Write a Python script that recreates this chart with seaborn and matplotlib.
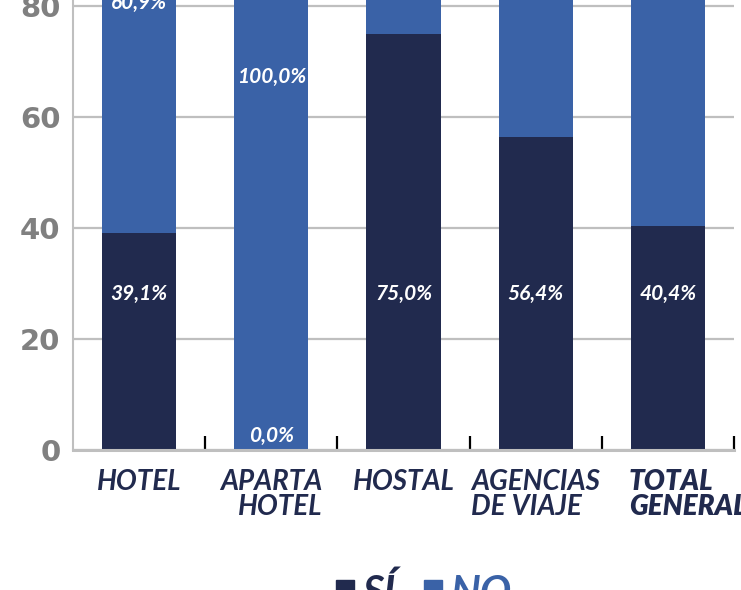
import matplotlib
matplotlib.use("Agg")
import matplotlib.pyplot as plt
import matplotlib.transforms as mtransforms
from matplotlib.patches import Patch
import pandas as pd
import seaborn as sns

# ── Data ─────────────────────────────────────────────────────────────────────
categories = ["HOTEL", "APARTA\nHOTEL", "HOSTAL", "AGENCIAS\nDE VIAJE", "TOTAL\nGENERAL"]
si_values = [39.1, 0.0, 75.0, 56.4, 40.4]
no_values = [60.9, 100.0, 25.0, 43.6, 59.6]
y_ticks = [0, 20, 40, 60, 80, 100]

NAVY = "#212A4E"
BLUE = "#3A62A7"
GRID = "#BFBFBF"

df = pd.DataFrame({"cat": categories, "si": si_values, "no": no_values})
df["total"] = df["si"] + df["no"]

sns.set_theme(style="white")
plt.rcParams["font.family"] = ["Lato", "DejaVu Sans"]

fig = plt.figure(figsize=(7.41, 5.90), dpi=100)
# axes runs past the top edge: the picture is a crop of a taller chart
ax = fig.add_axes([73 / 741, 140 / 590, 661 / 741, 555 / 590])

# stacked bars: full height in NO colour, SÍ drawn over it
sns.barplot(data=df, x="cat", y="total", color=BLUE, saturation=1,
            width=0.56, linewidth=0, ax=ax, zorder=3)
sns.barplot(data=df, x="cat", y="si", color=NAVY, saturation=1,
            width=0.56, linewidth=0, ax=ax, zorder=3)

ax.set_xlim(-0.5, len(categories) - 0.5)
ax.set_ylim(0, 100)
ax.set_xlabel("")
ax.set_ylabel("")

# percentage labels (heights as placed in the original)
fmt = lambda v: f"{v:.1f}".replace(".", ",") + "%"
lab_kw = dict(ha="center", va="center", color="white", fontsize=15,
              fontstyle="italic", fontweight="bold", zorder=5)
for i, s in enumerate(si_values):
    ax.text(i, 28.1 if s > 0 else 2.5, fmt(s), **lab_kw)
# only the first two NO labels fall inside the cropped view
no_label_y = [80.5, 67.2]
for i, y in enumerate(no_label_y):
    ax.text(i, y, fmt(no_values[i]), **lab_kw)

# grid and spines
ax.set_yticks(y_ticks)
ax.yaxis.grid(True, color=GRID, linewidth=1.6, zorder=0)
ax.xaxis.grid(False)
for side in ["top", "right"]:
    ax.spines[side].set_visible(False)
ax.spines["left"].set_color(GRID)
ax.spines["left"].set_linewidth(1.5)
ax.spines["bottom"].set_color(GRID)
ax.spines["bottom"].set_linewidth(2.2)
ax.spines["bottom"].set_zorder(4)

ax.tick_params(axis="y", length=0, pad=9, labelsize=21, labelcolor="#808080")
for t in ax.get_yticklabels():
    t.set_fontfamily(["DejaVu Sans"])
    t.set_fontweight("bold")

# category separators as small ticks pointing into the plot
ax.set_xticks([i + 0.5 for i in range(len(categories))], minor=True)
ax.tick_params(axis="x", which="minor", direction="in", length=10, width=1.6,
               color="black", bottom=True)
ax.tick_params(axis="x", which="major", length=0, pad=14, labelsize=20,
               labelcolor=NAVY)
aligns = ["center", "right", "center", "left", "left"]
for t, al in zip(ax.get_xticklabels(), aligns):
    t.set_fontstyle("italic")
    t.set_fontweight("bold")
    t.set_multialignment(al)
    t.set_linespacing(0.95)
# last label starts near the bar's left edge and runs off the right side
last = ax.get_xticklabels()[-1]
last.set_fontweight("heavy")
last.set_horizontalalignment("left")
last.set_transform(last.get_transform() +
                   mtransforms.ScaledTranslation(-39 / 100, 0, fig.dpi_scale_trans))

# legend at the bottom, cut by the lower edge
handles = [Patch(color=NAVY, label="SÍ"), Patch(color=BLUE, label="NO")]
leg = fig.legend(handles=handles, loc="upper left", bbox_to_anchor=(336 / 741, 17 / 590),
                 ncol=2, frameon=False, handlelength=0.42,
                 handleheight=0.42, handletextpad=0.2, columnspacing=0.7,
                 borderpad=0, borderaxespad=0,
                 prop=dict(family=["Lato", "DejaVu Sans"], style="italic",
                           weight="bold", size=30))
for txt, c in zip(leg.get_texts(), [NAVY, BLUE]):
    txt.set_color(c)

fig.savefig("out.png", dpi=100)
